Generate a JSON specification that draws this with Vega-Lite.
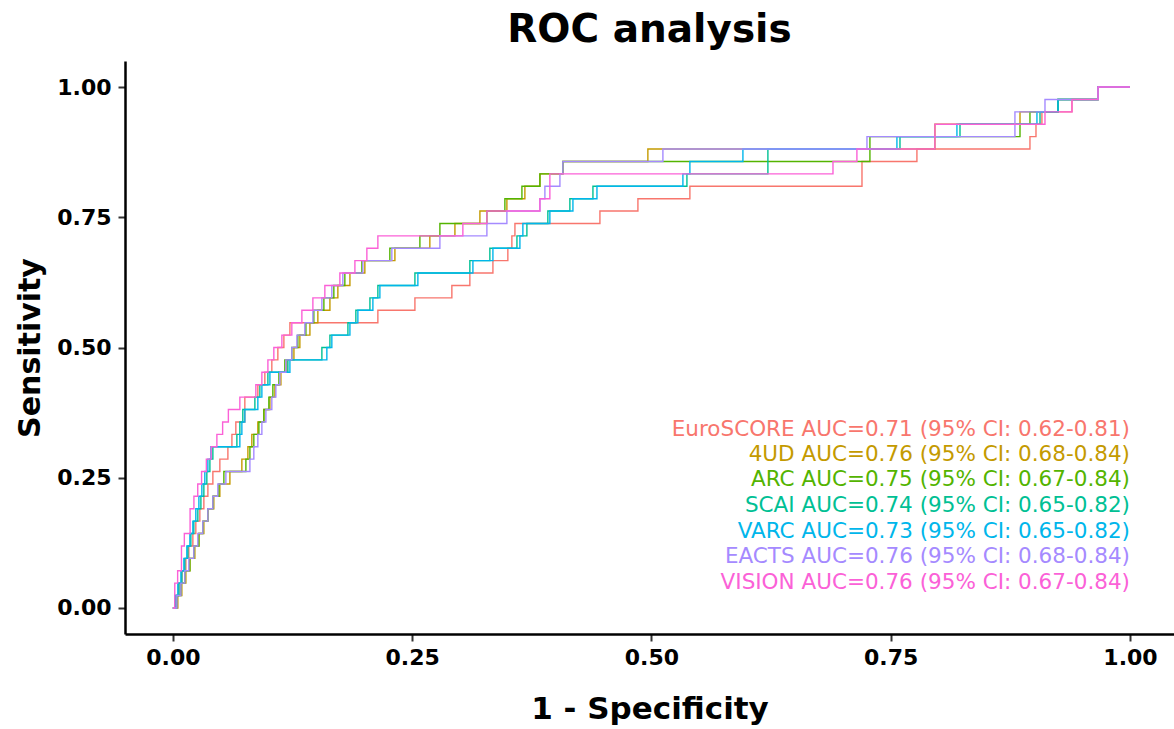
{
  "$schema": "https://vega.github.io/schema/vega-lite/v6.json",
  "width": 1049,
  "height": 573,
  "autosize": {"type": "none"},
  "padding": {"left": 125, "top": 61, "right": 0, "bottom": 95},
  "background": "white",
  "title": {"text": "ROC analysis", "font": "DejaVu Sans", "fontSize": 39, "fontWeight": "bold", "color": "black", "anchor": "middle", "frame": "group", "baseline": "alphabetic", "offset": 18, "dy": 38},
  "config": {"view": {"stroke": null}},
  "datasets": {
    "roc": [
      {"m":"EuroSCORE","fpr":0,"tpr":0},{"m":"EuroSCORE","fpr":0.0031,"tpr":0.0238},{"m":"EuroSCORE","fpr":0.0063,"tpr":0.0476},{"m":"EuroSCORE","fpr":0.0094,"tpr":0.0714},{"m":"EuroSCORE","fpr":0.0136,"tpr":0.0952},{"m":"EuroSCORE","fpr":0.0167,"tpr":0.119},{"m":"EuroSCORE","fpr":0.0209,"tpr":0.1429},{"m":"EuroSCORE","fpr":0.024,"tpr":0.1667},{"m":"EuroSCORE","fpr":0.0282,"tpr":0.1905},{"m":"EuroSCORE","fpr":0.0324,"tpr":0.2143},{"m":"EuroSCORE","fpr":0.0366,"tpr":0.2381},{"m":"EuroSCORE","fpr":0.0418,"tpr":0.2619},{"m":"EuroSCORE","fpr":0.0491,"tpr":0.2857},{"m":"EuroSCORE","fpr":0.0575,"tpr":0.3095},{"m":"EuroSCORE","fpr":0.0617,"tpr":0.3333},{"m":"EuroSCORE","fpr":0.0658,"tpr":0.3571},{"m":"EuroSCORE","fpr":0.0752,"tpr":0.4048},{"m":"EuroSCORE","fpr":0.0888,"tpr":0.4286},{"m":"EuroSCORE","fpr":0.0961,"tpr":0.4524},{"m":"EuroSCORE","fpr":0.1034,"tpr":0.4762},{"m":"EuroSCORE","fpr":0.1097,"tpr":0.5},{"m":"EuroSCORE","fpr":0.116,"tpr":0.5238},{"m":"EuroSCORE","fpr":0.1223,"tpr":0.5476},{"m":"EuroSCORE","fpr":0.2142,"tpr":0.5714},{"m":"EuroSCORE","fpr":0.2529,"tpr":0.5952},{"m":"EuroSCORE","fpr":0.2915,"tpr":0.619},{"m":"EuroSCORE","fpr":0.3103,"tpr":0.6429},{"m":"EuroSCORE","fpr":0.3344,"tpr":0.6667},{"m":"EuroSCORE","fpr":0.35,"tpr":0.6905},{"m":"EuroSCORE","fpr":0.3542,"tpr":0.7143},{"m":"EuroSCORE","fpr":0.3574,"tpr":0.7381},{"m":"EuroSCORE","fpr":0.4462,"tpr":0.7619},{"m":"EuroSCORE","fpr":0.4859,"tpr":0.7857},{"m":"EuroSCORE","fpr":0.5402,"tpr":0.8095},{"m":"EuroSCORE","fpr":0.72,"tpr":0.8571},{"m":"EuroSCORE","fpr":0.7774,"tpr":0.881},{"m":"EuroSCORE","fpr":0.8955,"tpr":0.9048},{"m":"EuroSCORE","fpr":0.9018,"tpr":0.9286},{"m":"EuroSCORE","fpr":0.908,"tpr":0.9524},{"m":"EuroSCORE","fpr":0.9394,"tpr":0.9762},{"m":"EuroSCORE","fpr":0.9666,"tpr":1},{"m":"EuroSCORE","fpr":1,"tpr":1},

      {"m":"4UD","fpr":0,"tpr":0},{"m":"4UD","fpr":0.0052,"tpr":0.0238},{"m":"4UD","fpr":0.0094,"tpr":0.0476},{"m":"4UD","fpr":0.0136,"tpr":0.0714},{"m":"4UD","fpr":0.0178,"tpr":0.0952},{"m":"4UD","fpr":0.023,"tpr":0.119},{"m":"4UD","fpr":0.0272,"tpr":0.1429},{"m":"4UD","fpr":0.0324,"tpr":0.1667},{"m":"4UD","fpr":0.0366,"tpr":0.1905},{"m":"4UD","fpr":0.0428,"tpr":0.2143},{"m":"4UD","fpr":0.0491,"tpr":0.2381},{"m":"4UD","fpr":0.0596,"tpr":0.2619},{"m":"4UD","fpr":0.0721,"tpr":0.2857},{"m":"4UD","fpr":0.0784,"tpr":0.3095},{"m":"4UD","fpr":0.0825,"tpr":0.3333},{"m":"4UD","fpr":0.0888,"tpr":0.3571},{"m":"4UD","fpr":0.0951,"tpr":0.381},{"m":"4UD","fpr":0.1014,"tpr":0.4048},{"m":"4UD","fpr":0.1066,"tpr":0.4286},{"m":"4UD","fpr":0.1129,"tpr":0.4524},{"m":"4UD","fpr":0.1191,"tpr":0.4762},{"m":"4UD","fpr":0.1265,"tpr":0.5},{"m":"4UD","fpr":0.1327,"tpr":0.5238},{"m":"4UD","fpr":0.1432,"tpr":0.5476},{"m":"4UD","fpr":0.1515,"tpr":0.5714},{"m":"4UD","fpr":0.1641,"tpr":0.5952},{"m":"4UD","fpr":0.1724,"tpr":0.619},{"m":"4UD","fpr":0.185,"tpr":0.6429},{"m":"4UD","fpr":0.2006,"tpr":0.6667},{"m":"4UD","fpr":0.232,"tpr":0.6905},{"m":"4UD","fpr":0.2685,"tpr":0.7143},{"m":"4UD","fpr":0.2947,"tpr":0.7381},{"m":"4UD","fpr":0.3208,"tpr":0.7619},{"m":"4UD","fpr":0.349,"tpr":0.7857},{"m":"4UD","fpr":0.3678,"tpr":0.8095},{"m":"4UD","fpr":0.3835,"tpr":0.8333},{"m":"4UD","fpr":0.4075,"tpr":0.8571},{"m":"4UD","fpr":0.4963,"tpr":0.881},{"m":"4UD","fpr":0.7962,"tpr":0.9286},{"m":"4UD","fpr":0.8851,"tpr":0.9524},{"m":"4UD","fpr":0.9248,"tpr":0.9762},{"m":"4UD","fpr":0.9666,"tpr":1},{"m":"4UD","fpr":1,"tpr":1},

      {"m":"ARC","fpr":0,"tpr":0},{"m":"ARC","fpr":0.0042,"tpr":0.0238},{"m":"ARC","fpr":0.0084,"tpr":0.0476},{"m":"ARC","fpr":0.0125,"tpr":0.0714},{"m":"ARC","fpr":0.0178,"tpr":0.0952},{"m":"ARC","fpr":0.0219,"tpr":0.119},{"m":"ARC","fpr":0.0272,"tpr":0.1429},{"m":"ARC","fpr":0.0313,"tpr":0.1667},{"m":"ARC","fpr":0.0366,"tpr":0.1905},{"m":"ARC","fpr":0.0418,"tpr":0.2143},{"m":"ARC","fpr":0.0481,"tpr":0.2381},{"m":"ARC","fpr":0.0533,"tpr":0.2619},{"m":"ARC","fpr":0.0763,"tpr":0.2857},{"m":"ARC","fpr":0.0805,"tpr":0.3095},{"m":"ARC","fpr":0.0846,"tpr":0.3333},{"m":"ARC","fpr":0.0899,"tpr":0.3571},{"m":"ARC","fpr":0.0951,"tpr":0.381},{"m":"ARC","fpr":0.1003,"tpr":0.4048},{"m":"ARC","fpr":0.1045,"tpr":0.4286},{"m":"ARC","fpr":0.1108,"tpr":0.4524},{"m":"ARC","fpr":0.117,"tpr":0.4762},{"m":"ARC","fpr":0.1243,"tpr":0.5},{"m":"ARC","fpr":0.1306,"tpr":0.5238},{"m":"ARC","fpr":0.139,"tpr":0.5476},{"m":"ARC","fpr":0.1473,"tpr":0.5714},{"m":"ARC","fpr":0.1578,"tpr":0.5952},{"m":"ARC","fpr":0.1682,"tpr":0.619},{"m":"ARC","fpr":0.1797,"tpr":0.6429},{"m":"ARC","fpr":0.1975,"tpr":0.6667},{"m":"ARC","fpr":0.2267,"tpr":0.6905},{"m":"ARC","fpr":0.2581,"tpr":0.7143},{"m":"ARC","fpr":0.279,"tpr":0.7381},{"m":"ARC","fpr":0.3281,"tpr":0.7619},{"m":"ARC","fpr":0.3469,"tpr":0.7857},{"m":"ARC","fpr":0.3647,"tpr":0.8095},{"m":"ARC","fpr":0.3835,"tpr":0.8333},{"m":"ARC","fpr":0.4075,"tpr":0.8571},{"m":"ARC","fpr":0.7283,"tpr":0.9048},{"m":"ARC","fpr":0.8851,"tpr":0.9286},{"m":"ARC","fpr":0.8955,"tpr":0.9524},{"m":"ARC","fpr":0.9248,"tpr":0.9762},{"m":"ARC","fpr":0.9666,"tpr":1},{"m":"ARC","fpr":1,"tpr":1},

      {"m":"SCAI","fpr":0,"tpr":0},{"m":"SCAI","fpr":0.0031,"tpr":0.0238},{"m":"SCAI","fpr":0.0063,"tpr":0.0476},{"m":"SCAI","fpr":0.0094,"tpr":0.0714},{"m":"SCAI","fpr":0.0125,"tpr":0.0952},{"m":"SCAI","fpr":0.0157,"tpr":0.119},{"m":"SCAI","fpr":0.0188,"tpr":0.1429},{"m":"SCAI","fpr":0.0219,"tpr":0.1667},{"m":"SCAI","fpr":0.0261,"tpr":0.1905},{"m":"SCAI","fpr":0.0293,"tpr":0.2143},{"m":"SCAI","fpr":0.0324,"tpr":0.2381},{"m":"SCAI","fpr":0.0355,"tpr":0.2619},{"m":"SCAI","fpr":0.0387,"tpr":0.2857},{"m":"SCAI","fpr":0.0418,"tpr":0.3095},{"m":"SCAI","fpr":0.0669,"tpr":0.3333},{"m":"SCAI","fpr":0.07,"tpr":0.3571},{"m":"SCAI","fpr":0.0731,"tpr":0.381},{"m":"SCAI","fpr":0.0857,"tpr":0.4048},{"m":"SCAI","fpr":0.0909,"tpr":0.4286},{"m":"SCAI","fpr":0.0993,"tpr":0.4524},{"m":"SCAI","fpr":0.1202,"tpr":0.4762},{"m":"SCAI","fpr":0.1557,"tpr":0.5},{"m":"SCAI","fpr":0.1641,"tpr":0.5238},{"m":"SCAI","fpr":0.1829,"tpr":0.5476},{"m":"SCAI","fpr":0.1912,"tpr":0.5714},{"m":"SCAI","fpr":0.2059,"tpr":0.5952},{"m":"SCAI","fpr":0.2142,"tpr":0.619},{"m":"SCAI","fpr":0.2529,"tpr":0.6429},{"m":"SCAI","fpr":0.3103,"tpr":0.6667},{"m":"SCAI","fpr":0.3312,"tpr":0.6905},{"m":"SCAI","fpr":0.3595,"tpr":0.7143},{"m":"SCAI","fpr":0.3699,"tpr":0.7381},{"m":"SCAI","fpr":0.3918,"tpr":0.7619},{"m":"SCAI","fpr":0.4148,"tpr":0.7857},{"m":"SCAI","fpr":0.4389,"tpr":0.8095},{"m":"SCAI","fpr":0.5371,"tpr":0.8333},{"m":"SCAI","fpr":0.6217,"tpr":0.881},{"m":"SCAI","fpr":0.7597,"tpr":0.9048},{"m":"SCAI","fpr":0.8224,"tpr":0.9286},{"m":"SCAI","fpr":0.906,"tpr":0.9524},{"m":"SCAI","fpr":0.9248,"tpr":0.9762},{"m":"SCAI","fpr":0.9666,"tpr":1},{"m":"SCAI","fpr":1,"tpr":1},

      {"m":"VARC","fpr":0,"tpr":0},{"m":"VARC","fpr":0.0021,"tpr":0.0238},{"m":"VARC","fpr":0.0052,"tpr":0.0476},{"m":"VARC","fpr":0.0084,"tpr":0.0714},{"m":"VARC","fpr":0.0115,"tpr":0.0952},{"m":"VARC","fpr":0.0146,"tpr":0.119},{"m":"VARC","fpr":0.0178,"tpr":0.1429},{"m":"VARC","fpr":0.0209,"tpr":0.1667},{"m":"VARC","fpr":0.024,"tpr":0.1905},{"m":"VARC","fpr":0.0272,"tpr":0.2143},{"m":"VARC","fpr":0.0303,"tpr":0.2381},{"m":"VARC","fpr":0.0334,"tpr":0.2619},{"m":"VARC","fpr":0.0366,"tpr":0.2857},{"m":"VARC","fpr":0.0397,"tpr":0.3095},{"m":"VARC","fpr":0.07,"tpr":0.3333},{"m":"VARC","fpr":0.0721,"tpr":0.3571},{"m":"VARC","fpr":0.0752,"tpr":0.381},{"m":"VARC","fpr":0.0888,"tpr":0.4048},{"m":"VARC","fpr":0.093,"tpr":0.4286},{"m":"VARC","fpr":0.1014,"tpr":0.4524},{"m":"VARC","fpr":0.1223,"tpr":0.4762},{"m":"VARC","fpr":0.1609,"tpr":0.5},{"m":"VARC","fpr":0.1661,"tpr":0.5238},{"m":"VARC","fpr":0.185,"tpr":0.5476},{"m":"VARC","fpr":0.1933,"tpr":0.5714},{"m":"VARC","fpr":0.209,"tpr":0.5952},{"m":"VARC","fpr":0.2163,"tpr":0.619},{"m":"VARC","fpr":0.256,"tpr":0.6429},{"m":"VARC","fpr":0.3135,"tpr":0.6667},{"m":"VARC","fpr":0.3344,"tpr":0.6905},{"m":"VARC","fpr":0.3626,"tpr":0.7143},{"m":"VARC","fpr":0.3657,"tpr":0.7381},{"m":"VARC","fpr":0.3939,"tpr":0.7619},{"m":"VARC","fpr":0.418,"tpr":0.7857},{"m":"VARC","fpr":0.4431,"tpr":0.8095},{"m":"VARC","fpr":0.5329,"tpr":0.8333},{"m":"VARC","fpr":0.5402,"tpr":0.8571},{"m":"VARC","fpr":0.5956,"tpr":0.881},{"m":"VARC","fpr":0.7565,"tpr":0.9048},{"m":"VARC","fpr":0.8192,"tpr":0.9286},{"m":"VARC","fpr":0.9028,"tpr":0.9524},{"m":"VARC","fpr":0.9248,"tpr":0.9762},{"m":"VARC","fpr":0.9666,"tpr":1},{"m":"VARC","fpr":1,"tpr":1},

      {"m":"EACTS","fpr":0,"tpr":0},{"m":"EACTS","fpr":0.0042,"tpr":0.0238},{"m":"EACTS","fpr":0.0084,"tpr":0.0476},{"m":"EACTS","fpr":0.0125,"tpr":0.0714},{"m":"EACTS","fpr":0.0167,"tpr":0.0952},{"m":"EACTS","fpr":0.0219,"tpr":0.119},{"m":"EACTS","fpr":0.0261,"tpr":0.1429},{"m":"EACTS","fpr":0.0313,"tpr":0.1667},{"m":"EACTS","fpr":0.0366,"tpr":0.1905},{"m":"EACTS","fpr":0.0418,"tpr":0.2143},{"m":"EACTS","fpr":0.047,"tpr":0.2381},{"m":"EACTS","fpr":0.0554,"tpr":0.2619},{"m":"EACTS","fpr":0.0805,"tpr":0.2857},{"m":"EACTS","fpr":0.0846,"tpr":0.3095},{"m":"EACTS","fpr":0.0888,"tpr":0.3333},{"m":"EACTS","fpr":0.093,"tpr":0.3571},{"m":"EACTS","fpr":0.0972,"tpr":0.381},{"m":"EACTS","fpr":0.1034,"tpr":0.4048},{"m":"EACTS","fpr":0.1076,"tpr":0.4286},{"m":"EACTS","fpr":0.1118,"tpr":0.4524},{"m":"EACTS","fpr":0.1181,"tpr":0.4762},{"m":"EACTS","fpr":0.1243,"tpr":0.5},{"m":"EACTS","fpr":0.1296,"tpr":0.5238},{"m":"EACTS","fpr":0.1379,"tpr":0.5476},{"m":"EACTS","fpr":0.1463,"tpr":0.5714},{"m":"EACTS","fpr":0.1557,"tpr":0.5952},{"m":"EACTS","fpr":0.1661,"tpr":0.619},{"m":"EACTS","fpr":0.1776,"tpr":0.6429},{"m":"EACTS","fpr":0.1985,"tpr":0.6667},{"m":"EACTS","fpr":0.2288,"tpr":0.6905},{"m":"EACTS","fpr":0.279,"tpr":0.7143},{"m":"EACTS","fpr":0.3281,"tpr":0.7381},{"m":"EACTS","fpr":0.349,"tpr":0.7619},{"m":"EACTS","fpr":0.3835,"tpr":0.7857},{"m":"EACTS","fpr":0.3887,"tpr":0.8095},{"m":"EACTS","fpr":0.4044,"tpr":0.8333},{"m":"EACTS","fpr":0.4075,"tpr":0.8571},{"m":"EACTS","fpr":0.512,"tpr":0.881},{"m":"EACTS","fpr":0.7252,"tpr":0.9048},{"m":"EACTS","fpr":0.8798,"tpr":0.9524},{"m":"EACTS","fpr":0.9112,"tpr":0.9762},{"m":"EACTS","fpr":0.9666,"tpr":1},{"m":"EACTS","fpr":1,"tpr":1},

      {"m":"VISION","fpr":0,"tpr":0},{"m":"VISION","fpr":0.002,"tpr":0.0476},{"m":"VISION","fpr":0.005,"tpr":0.0714},{"m":"VISION","fpr":0.009,"tpr":0.119},{"m":"VISION","fpr":0.012,"tpr":0.1429},{"m":"VISION","fpr":0.018,"tpr":0.1905},{"m":"VISION","fpr":0.022,"tpr":0.2143},{"m":"VISION","fpr":0.026,"tpr":0.2381},{"m":"VISION","fpr":0.03,"tpr":0.2619},{"m":"VISION","fpr":0.035,"tpr":0.2857},{"m":"VISION","fpr":0.04,"tpr":0.3095},{"m":"VISION","fpr":0.046,"tpr":0.3333},{"m":"VISION","fpr":0.052,"tpr":0.3571},{"m":"VISION","fpr":0.058,"tpr":0.381},{"m":"VISION","fpr":0.07,"tpr":0.4048},{"m":"VISION","fpr":0.0867,"tpr":0.4286},{"m":"VISION","fpr":0.093,"tpr":0.4524},{"m":"VISION","fpr":0.0993,"tpr":0.4762},{"m":"VISION","fpr":0.1055,"tpr":0.5},{"m":"VISION","fpr":0.1139,"tpr":0.5238},{"m":"VISION","fpr":0.1243,"tpr":0.5476},{"m":"VISION","fpr":0.1348,"tpr":0.5714},{"m":"VISION","fpr":0.1463,"tpr":0.5952},{"m":"VISION","fpr":0.1588,"tpr":0.619},{"m":"VISION","fpr":0.1745,"tpr":0.6429},{"m":"VISION","fpr":0.1902,"tpr":0.6667},{"m":"VISION","fpr":0.2027,"tpr":0.6905},{"m":"VISION","fpr":0.2142,"tpr":0.7143},{"m":"VISION","fpr":0.303,"tpr":0.7381},{"m":"VISION","fpr":0.3281,"tpr":0.7619},{"m":"VISION","fpr":0.3835,"tpr":0.7857},{"m":"VISION","fpr":0.3939,"tpr":0.8333},{"m":"VISION","fpr":0.6897,"tpr":0.8571},{"m":"VISION","fpr":0.7147,"tpr":0.881},{"m":"VISION","fpr":0.7962,"tpr":0.9286},{"m":"VISION","fpr":0.9112,"tpr":0.9524},{"m":"VISION","fpr":0.9394,"tpr":0.9762},{"m":"VISION","fpr":0.9666,"tpr":1},{"m":"VISION","fpr":1,"tpr":1}
    ],
    "labels": [
      {"m":"EuroSCORE","label":"EuroSCORE AUC=0.71 (95% CI: 0.62-0.81)","y":0.342},
      {"m":"4UD","label":"4UD AUC=0.76 (95% CI: 0.68-0.84)","y":0.294},
      {"m":"ARC","label":"ARC AUC=0.75 (95% CI: 0.67-0.84)","y":0.246},
      {"m":"SCAI","label":"SCAI AUC=0.74 (95% CI: 0.65-0.82)","y":0.196},
      {"m":"VARC","label":"VARC AUC=0.73 (95% CI: 0.65-0.82)","y":0.146},
      {"m":"EACTS","label":"EACTS AUC=0.76 (95% CI: 0.68-0.84)","y":0.098},
      {"m":"VISION","label":"VISION AUC=0.76 (95% CI: 0.67-0.84)","y":0.048}
    ]
  },
  "layer": [
    {
      "data": {"name": "roc"},
      "mark": {"type": "line", "interpolate": "step-after", "strokeWidth": 1.4},
      "encoding": {
        "x": {"field": "fpr", "type": "quantitative",
              "scale": {"domain": [-0.05, 1.046], "nice": false, "zero": false},
              "axis": {"title": "1 - Specificity", "values": [0, 0.25, 0.5, 0.75, 1], "format": ".2f", "grid": false,
                       "domainColor": "black", "domainWidth": 2.5, "tickColor": "#333333", "tickWidth": 2, "tickSize": 7,
                       "labelFont": "DejaVu Sans", "labelFontSize": 22, "labelFontWeight": "bold", "labelColor": "black", "labelPadding": 6,
                       "titleFont": "DejaVu Sans", "titleFontSize": 31, "titleFontWeight": "bold", "titleColor": "black",
                       "titleBaseline": "alphabetic", "titleY": 84}},
        "y": {"field": "tpr", "type": "quantitative",
              "scale": {"domain": [-0.05, 1.05], "nice": false, "zero": false},
              "axis": {"title": "Sensitivity", "values": [0, 0.25, 0.5, 0.75, 1], "format": ".2f", "grid": false,
                       "domainColor": "black", "domainWidth": 2.5, "tickColor": "#333333", "tickWidth": 2, "tickSize": 7,
                       "labelFont": "DejaVu Sans", "labelFontSize": 22, "labelFontWeight": "bold", "labelColor": "black", "labelPadding": 7,
                       "titleFont": "DejaVu Sans", "titleFontSize": 30, "titleFontWeight": "bold", "titleColor": "black",
                       "titleBaseline": "alphabetic", "titleX": -86}},
        "color": {"field": "m", "type": "nominal",
                  "scale": {"domain": ["EuroSCORE", "4UD", "ARC", "SCAI", "VARC", "EACTS", "VISION"],
                            "range": ["#F8766D", "#C49A00", "#53B400", "#00C094", "#00B6EB", "#A58AFF", "#FB61D7"]},
                  "legend": null}
      }
    },
    {
      "data": {"name": "labels"},
      "mark": {"type": "text", "align": "right", "baseline": "middle", "font": "DejaVu Sans", "fontSize": 21.5},
      "encoding": {
        "x": {"datum": 1, "type": "quantitative"},
        "y": {"field": "y", "type": "quantitative"},
        "text": {"field": "label"},
        "color": {"field": "m", "type": "nominal", "legend": null}
      }
    }
  ]
}
